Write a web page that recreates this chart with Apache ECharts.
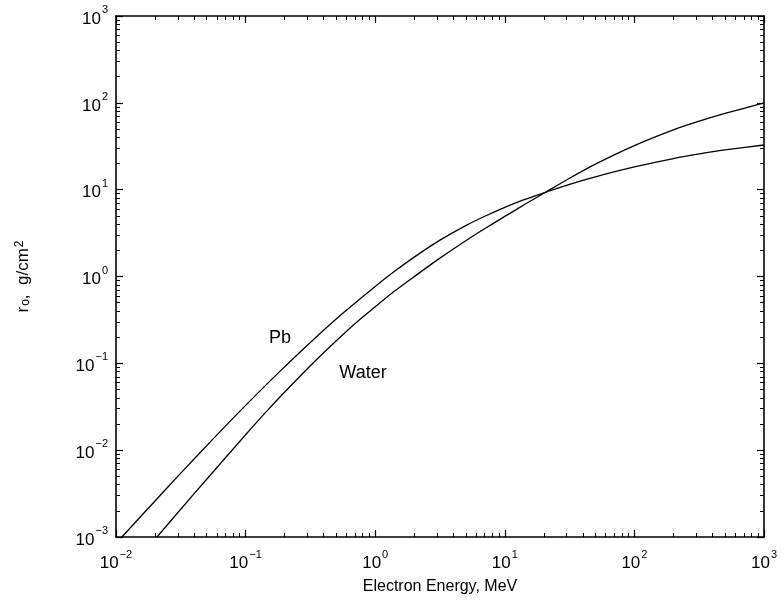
<!DOCTYPE html>
<html>
<head>
<meta charset="utf-8">
<script src="https://cdn.jsdelivr.net/npm/echarts@6/dist/echarts.min.js"></script>
<style>html,body{margin:0;padding:0;background:#fff;overflow:hidden}#c{width:781px;height:600px}</style>
</head>
<body>
<div id="c"></div>
<script>
// ---- data ----
const energyPb = [0.0111, 0.02, 0.0316, 0.0562, 0.1, 0.178, 0.316, 0.562, 1, 1.41, 2, 3.16, 5, 7.08, 10, 14.1, 20, 31.6, 50, 100, 200, 316, 500, 1000];
const rangePb  = [0.001, 0.0026, 0.00544, 0.0135, 0.0328, 0.0771, 0.174, 0.377, 0.769, 1.148, 1.673, 2.62, 3.86, 4.97, 6.26, 7.67, 9.21, 11.5, 14.05, 18.26, 22.8, 25.8, 28.7, 32.7];
const energyWater = [0.0207, 0.0316, 0.0501, 0.1, 0.141, 0.1995, 0.316, 0.501, 0.708, 1, 1.41, 2, 3.16, 5, 7.08, 10, 14.1, 20, 31.6, 50, 100, 200, 316, 500, 1000];
const rangeWater  = [0.001, 0.00209, 0.00463, 0.01505, 0.0267, 0.0464, 0.094, 0.182, 0.292, 0.447, 0.679, 0.997, 1.627, 2.58, 3.59, 4.92, 6.70, 9.10, 13.55, 19.7, 32.2, 48.8, 61.4, 75.5, 100];

const xTickValues = [0.01, 0.1, 1, 10, 100, 1000];
const xTickExponents = ['\u22122', '\u22121', '0', '1', '2', '3'];
const yTickValues = [0.001, 0.01, 0.1, 1, 10, 100, 1000];
const yTickExponents = ['\u22123', '\u22122', '\u22121', '0', '1', '2', '3'];

const curveNames = ['Pb', 'Water'];
const labelTexts = ['Pb', 'Water'];
const labelX = [0.184, 0.805];
const labelY = [0.196, 0.0774];

const xTitle = 'Electron Energy, MeV';

// ---- helpers ----
function minorTicks(lo, hi) {
  const out = [];
  for (let p = lo; p < hi; p++) {
    for (let m = 2; m <= 9; m++) out.push(+(m * Math.pow(10, p)).toPrecision(6));
  }
  return out;
}
function zip(a, b) { return a.map((v, i) => [v, b[i]]); }
function fmt(values, exps) {
  return function (v) {
    let best = 0, bd = Infinity;
    values.forEach((t, i) => { const d = Math.abs(Math.log10(v) - Math.log10(t)); if (d < bd) { bd = d; best = i; } });
    return '{b|10}{s|' + exps[best] + '}';
  };
}
const FONT = 'Liberation Sans';
const richTick = {
  b: { fontSize: 17, fontFamily: FONT, color: '#000', padding: [6, 0, 0, 0] },
  s: { fontSize: 11, fontFamily: FONT, color: '#000', verticalAlign: 'top', padding: [0, 0, 0, 1] }
};
const lineSty = { color: '#000', width: 1.6 };

function mkAxis(pos, min, max, majors, minors, labels) {
  const base = {
    type: 'log', logBase: 10, min: min, max: max, position: pos,
    splitLine: { show: false }, minorTick: { show: false }, minorSplitLine: { show: false }
  };
  return [
    Object.assign({}, base, {
      axisLine: { show: true, onZero: false, lineStyle: lineSty },
      axisTick: { show: true, inside: true, length: 7, lineStyle: { color: '#000', width: 1.2 }, customValues: majors },
      axisLabel: labels ? labels : { show: false }
    }),
    Object.assign({}, base, {
      axisLine: { show: false },
      axisTick: { show: true, inside: true, length: 4, lineStyle: { color: '#000', width: 1 }, customValues: minors },
      axisLabel: { show: false }
    })
  ];
}

const xMinors = minorTicks(-2, 3);
const yMinors = minorTicks(-3, 3);

const xAxes = [].concat(
  mkAxis('bottom', 0.01, 1000, xTickValues, xMinors, {
    show: true, customValues: xTickValues, margin: 12, formatter: fmt(xTickValues, xTickExponents), rich: richTick
  }),
  mkAxis('top', 0.01, 1000, xTickValues, xMinors, null)
);
xAxes[0].name = xTitle;
xAxes[0].nameLocation = 'middle';
xAxes[0].nameGap = 42;
xAxes[0].nameTextStyle = { fontSize: 16, fontFamily: FONT, color: '#000' };

const yAxes = [].concat(
  mkAxis('left', 0.001, 1000, yTickValues, yMinors, {
    show: true, customValues: yTickValues, margin: 8, formatter: fmt(yTickValues, yTickExponents), rich: richTick
  }),
  mkAxis('right', 0.001, 1000, yTickValues, yMinors, null)
);
yAxes[0].name = '{t|r}{sub|o}{t|,  g/cm}{sup|2}';
yAxes[0].nameLocation = 'middle';
yAxes[0].nameRotate = 90;
yAxes[0].nameGap = 84;
yAxes[0].nameTextStyle = {
  color: '#000',
  rich: {
    t: { fontSize: 17, fontFamily: FONT, color: '#000' },
    sub: { fontSize: 12, fontFamily: FONT, color: '#000', verticalAlign: 'bottom', padding: [6, 0, 0, 1] },
    sup: { fontSize: 12, fontFamily: FONT, color: '#000', verticalAlign: 'top', padding: [0, 0, 6, 1] }
  }
};

const series = [
  { name: curveNames[0], type: 'line', data: zip(energyPb, rangePb), xAxisIndex: 0, yAxisIndex: 0,
    showSymbol: false, smooth: 0.25, lineStyle: { color: '#000', width: 1.3 }, silent: true },
  { name: curveNames[1], type: 'line', data: zip(energyWater, rangeWater), xAxisIndex: 0, yAxisIndex: 0,
    showSymbol: false, smooth: 0.25, lineStyle: { color: '#000', width: 1.3 }, silent: true },
  { name: 'labels', type: 'scatter', xAxisIndex: 0, yAxisIndex: 0, symbolSize: 0, silent: true,
    itemStyle: { opacity: 1, color: '#000' },
    data: labelTexts.map((t, i) => ({ name: t, value: [labelX[i], labelY[i]] })),
    label: { show: true, position: 'inside', formatter: p => p.name, fontSize: 18, fontFamily: FONT,
      color: '#000', opacity: 1, textBorderWidth: 0 } }
];

const chart = echarts.init(document.getElementById('c'), null, { renderer: 'canvas' });
chart.setOption({
  animation: false,
  backgroundColor: '#fff',
  grid: { left: 116, right: 17, top: 16, bottom: 63, containLabel: false },
  xAxis: xAxes,
  yAxis: yAxes,
  series: series
});
</script>
</body>
</html>
